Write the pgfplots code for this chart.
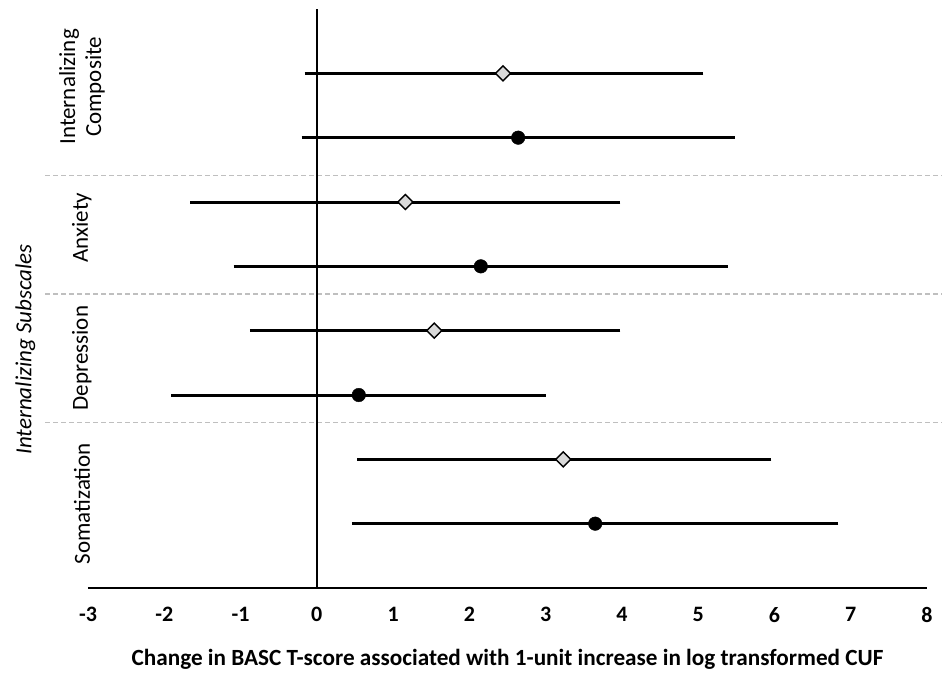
\documentclass[border=0pt]{standalone}
\usepackage{fontspec}
\setmainfont{Carlito}
\usepackage{pgfplots}
\usepackage{pgfplotstable}
\pgfplotsset{compat=1.18}
\definecolor{diamfill}{HTML}{D9D9D9}
\definecolor{sepgray}{HTML}{BFBFBF}

\pgfplotstableread{
x y em ep
2.44 8 2.56 2.59
1.16 6 2.78 2.78
1.54 4 2.38 2.40
3.23 2 2.66 2.69
}\diamdata
\pgfplotstableread{
x y em ep
2.64 7 2.80 2.80
2.15 5 3.20 3.20
0.55 3 2.42 2.41
3.65 1 3.15 3.15
}\circdata

\begin{document}
\begin{tikzpicture}
\begin{axis}[
  scale only axis, width=839pt, height=579pt,
  xmin=-3, xmax=8, ymin=0, ymax=9,
  axis x line=bottom, axis y line=none,
  x axis line style={-, line width=2.4pt},
  xtick={-3,-2,-1,0,1,2,3,4,5,6,7,8},
  xticklabels={-3,-2,-1,0,1,2,3,4,5,6,7,8},
  major tick length=0pt,
  xticklabel style={font=\fontsize{22}{22}\selectfont\bfseries, yshift=-16pt},
  xlabel={Change in BASC T-score associated with 1-unit increase in log transformed CUF},
  xlabel style={font=\fontsize{23.2}{23.2}\selectfont\bfseries, yshift=-19pt},
  ytick=\empty,
  clip=false,
]
\coordinate (O) at (axis cs:-3,0);
% separators
\addplot[sepgray, line width=1.1pt, dash pattern=on 5pt off 3pt] coordinates {(-3.56,6.41) (8.19,6.41)};
\addplot[sepgray, line width=1.1pt, dash pattern=on 5pt off 3pt] coordinates {(-3.56,4.57) (8.19,4.57)};
\addplot[sepgray, line width=1.1pt, dash pattern=on 5pt off 3pt] coordinates {(-3.56,2.57) (8.19,2.57)};
% zero line
\addplot[black, line width=2.4pt] coordinates {(0,0) (0,9)};
% diamonds
\addplot[only marks, mark=square*, mark size=5.3pt,
  mark options={rotate=45, fill=diamfill, draw=black, line width=1.4pt},
  error bars/.cd, x dir=both, x explicit,
  error bar style={line width=3pt, black},
  error mark options={line width=3pt, mark size=3pt, black}]
  table[x=x, y=y, x error minus=em, x error plus=ep] {\diamdata};
% circles
\addplot[only marks, mark=*, mark size=6.8pt,
  mark options={fill=black, draw=black},
  error bars/.cd, x dir=both, x explicit,
  error bar style={line width=3pt, black},
  error mark options={line width=3pt, mark size=3pt, black}]
  table[x=x, y=y, x error minus=em, x error plus=ep] {\circdata};
% category labels
\node[rotate=90, align=center, font=\fontsize{23}{26}\selectfont] at (axis cs:-3.08,7.79) {Internalizing\\Composite};
\node[rotate=90, font=\fontsize{23}{26}\selectfont] at (axis cs:-3.08,5.60) {Anxiety};
\node[rotate=90, font=\fontsize{23}{26}\selectfont] at (axis cs:-3.08,3.575) {Depression};
\node[rotate=90, font=\fontsize{23}{26}\selectfont] at (axis cs:-3.08,1.31) {Somatization};
\node[rotate=90, font=\fontsize{23}{26}\selectfont\itshape] at (axis cs:-3.82,3.71) {Internalizing Subscales};
\end{axis}
\pgfresetboundingbox
\path[use as bounding box] ([shift={(-88pt,-85pt)}]O) rectangle ([shift={(854pt,588pt)}]O);
\end{tikzpicture}
\end{document}
